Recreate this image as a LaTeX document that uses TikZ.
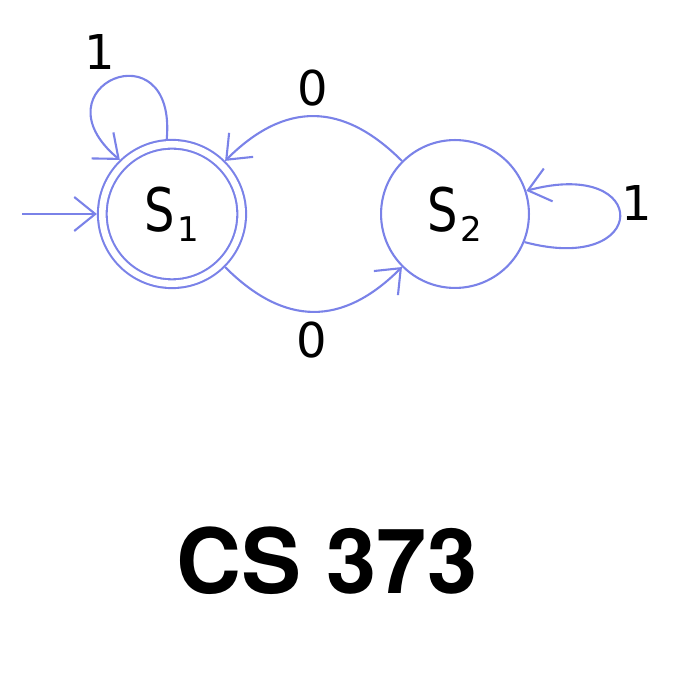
\documentclass[tikz,border=0pt]{standalone}
\usepackage{fontspec}
\setmainfont{DejaVu Sans}
\newfontfamily\statefont[FakeStretch=0.8]{DejaVu Sans}
\newfontfamily\titlefont{TeX Gyre Heros}
\usepackage{tikz}
\usetikzlibrary{arrows.meta}
\definecolor{stateblue}{RGB}{122,130,232}
\tikzstyle{state}=[circle,draw=stateblue,line width=2.1pt,minimum size=147.9pt,inner sep=0pt,font=\statefont\fontsize{60}{62}\selectfont]
\tikzstyle{accepting}=[state,double=white,double distance=6.6pt,minimum size=139.4pt,outer sep=5.4pt]
\tikzstyle{edge} = [draw=stateblue,line width=2.1pt,-{Straight Barb[length=21pt,width=34pt]}]
\tikzstyle{sym}=[font=\fontsize{48}{50}\selectfont,inner sep=0pt]
\newcommand{\stname}[2]{#1\kern3pt\raisebox{-10pt}{\rmfamily\fontsize{34}{35}\selectfont #2}}

\begin{document}
\begin{tikzpicture}[x=1pt,y=1pt]
        \useasboundingbox (0,0) rectangle (680,680);
        \node[accepting] (s1) at (172,466) {\stname{S}{1}};
        \node[state] (s2) at (455,466) {\stname{S}{2}};
        \coordinate (init) at (22,466);
        \node[sym] (loop1) at (100,628) {1};
        \node[sym] (back0) at (313,592) {0};
        \node[sym] (fwd0) at (312,340) {0};
        \node[sym] (loop2) at (637,477) {1};
        \node[font=\titlefont\bfseries\fontsize{90}{94}\selectfont,inner sep=0pt] (title) at (327,119) {CS 373};
        \draw[edge] (init) -- (s1);
        \draw[edge] (s1.94) to[out=85,in=140,looseness=5.7] (s1.134);
        \draw[edge] (s2) to[out=135,in=45,looseness=1.22] (s1);
        \draw[edge] (s1) to[out=-45,in=-135,looseness=1.22] (s2);
        \draw[edge] (s2.-22) to[out=-15,in=15,looseness=6.5] (s2.18);
      \end{tikzpicture}
\end{document}
